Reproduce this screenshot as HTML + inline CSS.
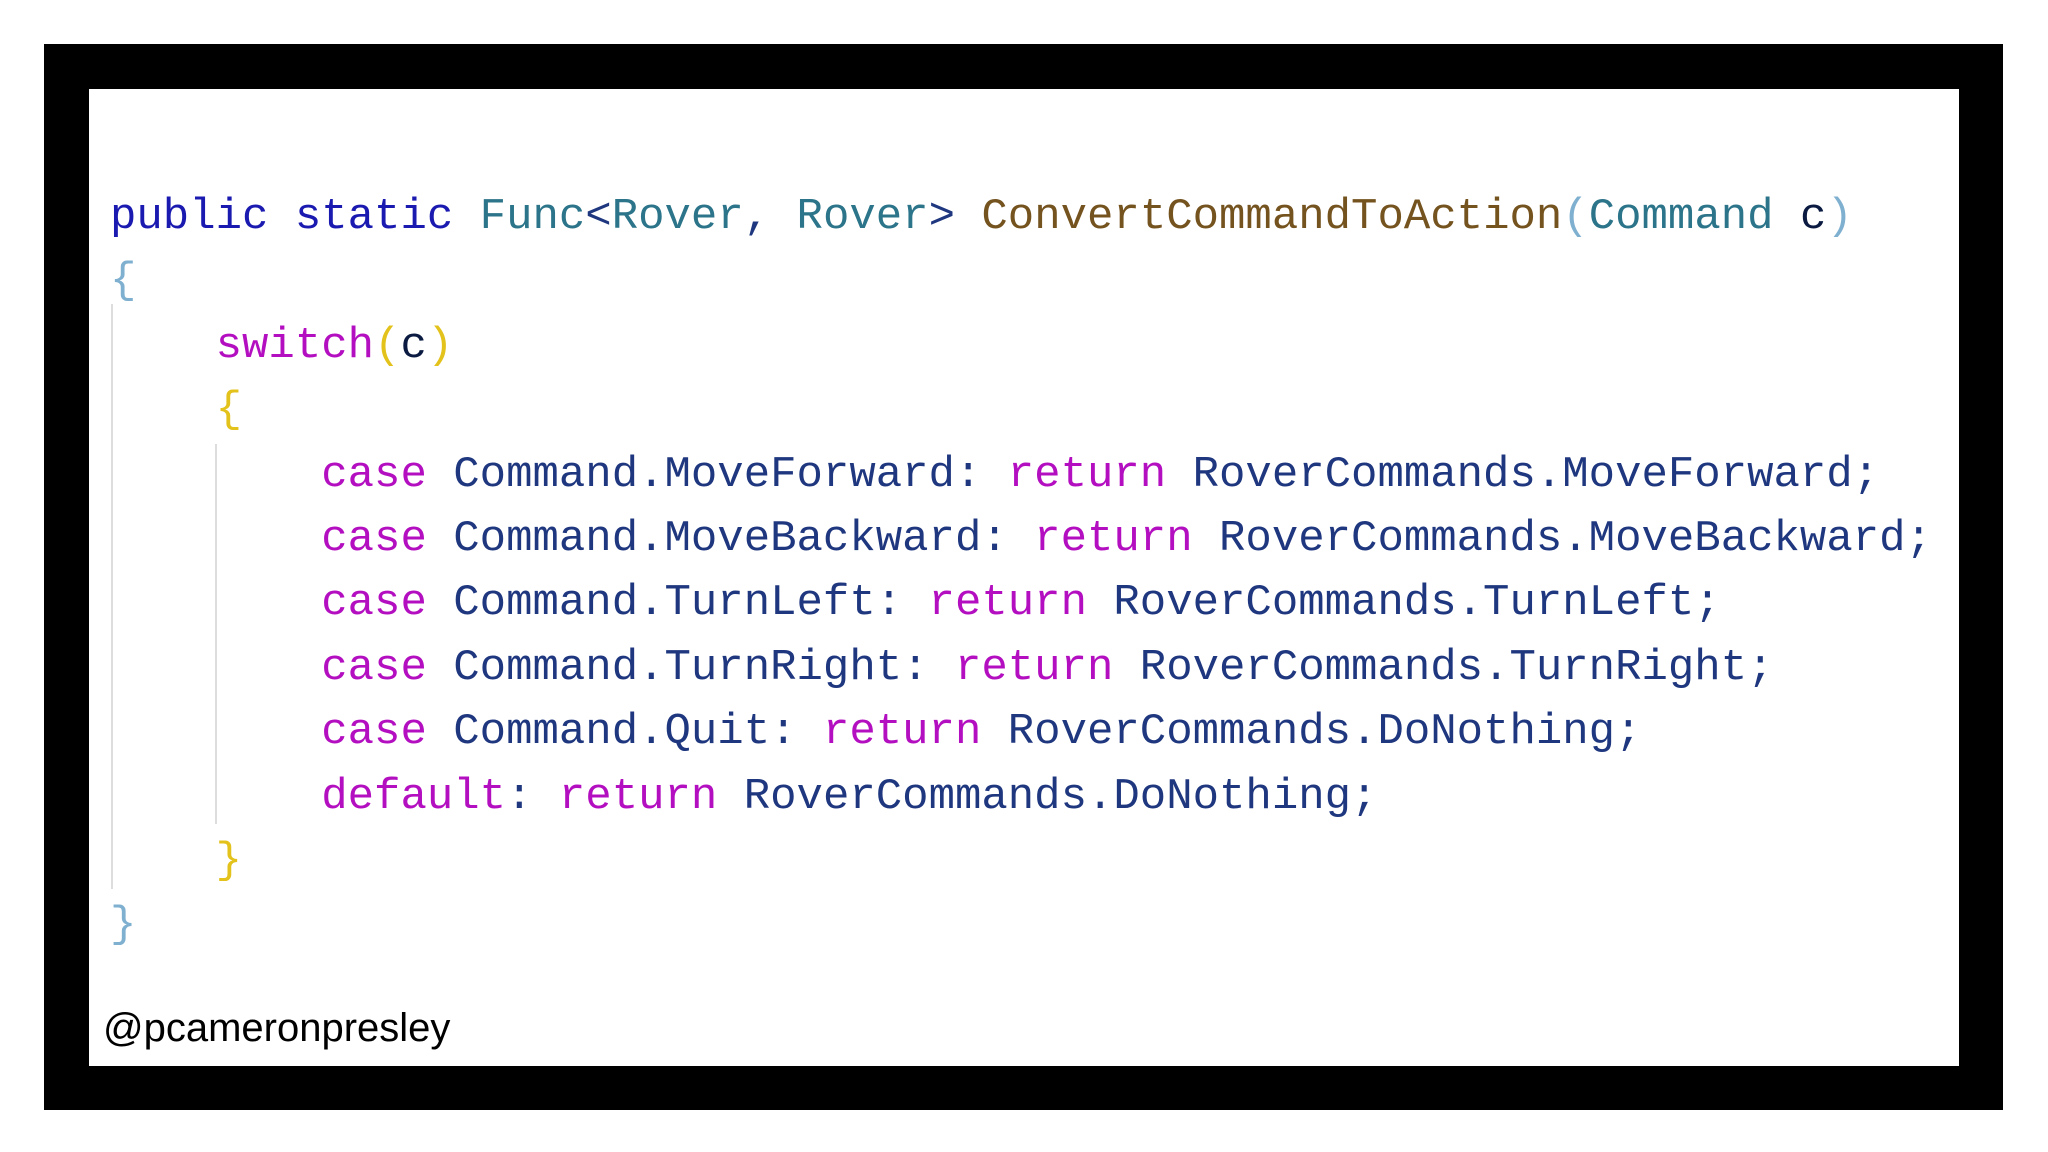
<!DOCTYPE html>
<html><head><style>
html,body{margin:0;padding:0;background:#fff;width:2048px;height:1152px;overflow:hidden}
.outer{position:absolute;left:44px;top:44px;width:1959px;height:1066px;background:#000}
.inner{position:absolute;left:89px;top:89px;width:1870px;height:977px;background:#fff}
.code{position:absolute;left:110px;top:185px;font-family:"Liberation Mono",monospace;font-size:44px;line-height:64.4px;white-space:pre;color:#1f377f}
.k{color:#1a1ab0}.t{color:#2b7489}.m{color:#74531f}.p{color:#7fb0d0}.c{color:#b30fc0}.y{color:#e3c21c}.d{color:#0a1a40}
.guide{position:absolute;width:2px;background:#ddd}
.h{position:absolute;left:103px;top:1006px;font-family:"Liberation Sans",sans-serif;font-size:40px;color:#000}
</style></head><body>
<div class="outer"></div><div class="inner"></div>
<div class="guide" style="left:111px;top:304px;height:585px"></div>
<div class="guide" style="left:215px;top:444px;height:380px"></div>
<div class="code"><span class="k">public static</span> <span class="t">Func</span>&lt;<span class="t">Rover</span>, <span class="t">Rover</span>&gt; <span class="m">ConvertCommandToAction</span><span class="p">(</span><span class="t">Command</span> <span class="d">c</span><span class="p">)</span>
<span class="p">{</span>
    <span class="c">switch</span><span class="y">(</span><span class="d">c</span><span class="y">)</span>
    <span class="y">{</span>
        <span class="c">case</span> Command.MoveForward: <span class="c">return</span> RoverCommands.MoveForward;
        <span class="c">case</span> Command.MoveBackward: <span class="c">return</span> RoverCommands.MoveBackward;
        <span class="c">case</span> Command.TurnLeft: <span class="c">return</span> RoverCommands.TurnLeft;
        <span class="c">case</span> Command.TurnRight: <span class="c">return</span> RoverCommands.TurnRight;
        <span class="c">case</span> Command.Quit: <span class="c">return</span> RoverCommands.DoNothing;
        <span class="c">default</span>: <span class="c">return</span> RoverCommands.DoNothing;
    <span class="y">}</span>
<span class="p">}</span></div>
<div class="h">@pcameronpresley</div>
</body></html>
